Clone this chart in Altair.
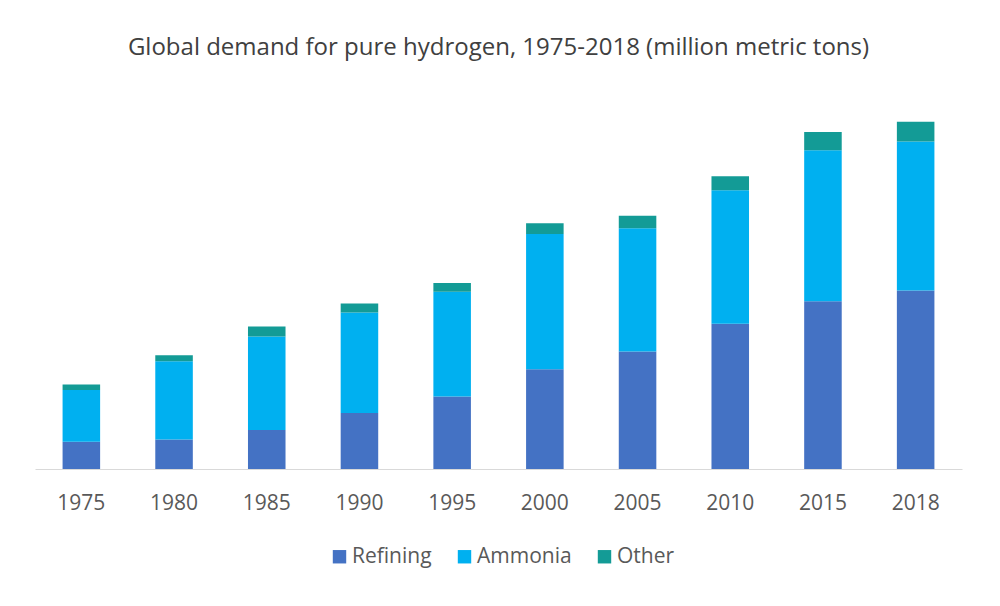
import altair as alt
import pandas as pd

years = ["1975", "1980", "1985", "1990", "1995", "2000", "2005", "2010", "2015", "2018"]
refining = [5.8, 6.3, 8.3, 11.9, 15.4, 21.2, 25.0, 30.9, 35.7, 38.0]
ammonia = [11.0, 16.6, 19.9, 21.4, 22.3, 28.8, 26.2, 28.4, 32.1, 31.7]
other = [1.2, 1.3, 2.1, 1.9, 1.9, 2.3, 2.7, 3.0, 3.9, 4.2]

categories = ["Refining", "Ammonia", "Other"]
colors = ["#4472C4", "#00B0F0", "#139B96"]

rows = []
for i, y in enumerate(years):
    for k, (cat, vals) in enumerate(zip(categories, [refining, ammonia, other])):
        rows.append({"year": y, "use": cat, "value": vals[i], "ord": k})
df = pd.DataFrame(rows)

FONT = "Open Sans"

chart = alt.Chart(df).mark_bar().encode(
    x=alt.X("year:N", sort=years,
            scale=alt.Scale(paddingInner=0.595, paddingOuter=0.2975),
            axis=alt.Axis(title=None, labelAngle=0, ticks=False, labelPadding=23,
                          labelFont=FONT, labelFontSize=21, labelColor="#595959",
                          domainColor="#D9D9D9", domainWidth=1.2, grid=False)),
    y=alt.Y("value:Q", stack="zero", scale=alt.Scale(domain=[0, 80]), axis=None),
    color=alt.Color("use:N", sort=categories,
                    scale=alt.Scale(domain=categories, range=colors),
                    legend=alt.Legend(title=None, orient="none", direction="horizontal",
                                      legendX=294, legendY=453,
                                      symbolType="square", symbolSize=180,
                                      symbolStrokeWidth=0, labelFont=FONT,
                                      labelFontSize=21, labelColor="#595959",
                                      labelOffset=2, columnPadding=22)),
    order=alt.Order("ord:Q", sort="ascending"),
).properties(
    width=927,
    height=376,
    title=alt.TitleParams("Global demand for pure hydrogen, 1975-2018 (million metric tons)",
                          font=FONT, fontSize=24, fontWeight="normal", color="#404040",
                          anchor="middle", offset=33),
    padding={"left": 27, "top": 85, "right": 30, "bottom": 100},
    autosize=alt.AutoSizeParams(type="none"),
).configure_view(stroke=None)

chart.save("out.html", embed_options={"renderer": "svg", "actions": False})
